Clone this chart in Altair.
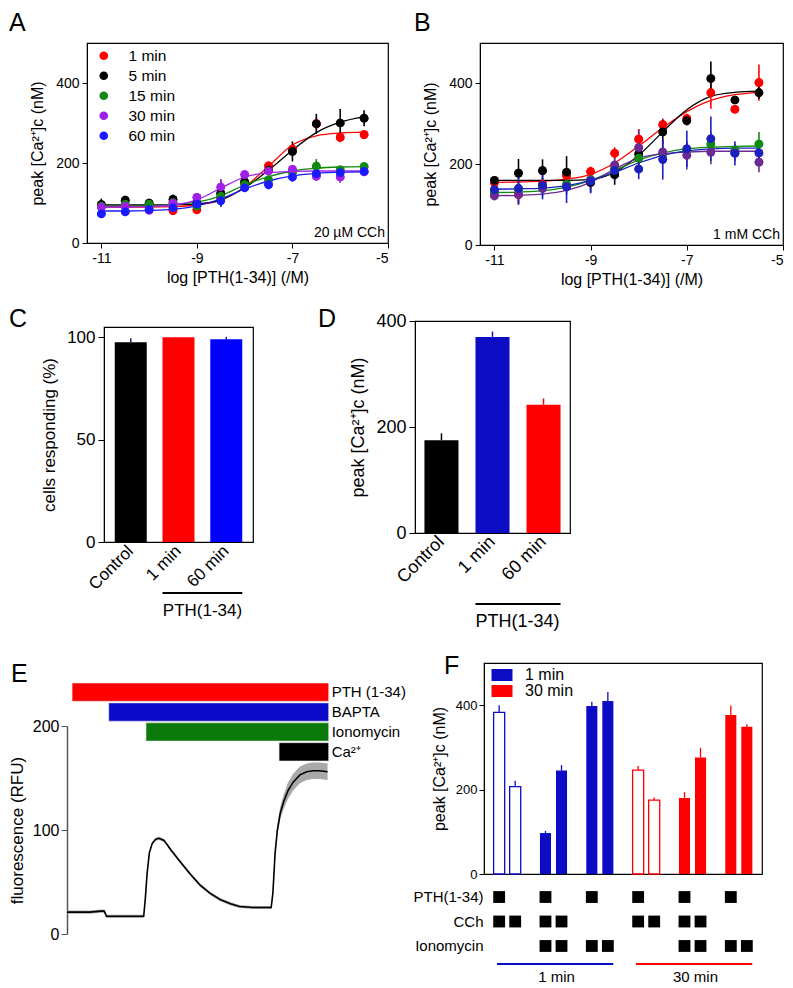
import altair as alt
import pandas as pd

FONT = "Liberation Sans"

# ---------------- Panels A & B : dose-response ----------------
log_pth = [-11, -10.5, -10, -9.5, -9, -8.5, -8, -7.5, -7, -6.5, -6, -5.5]
times = ["1 min", "5 min", "15 min", "30 min", "60 min"]

a_mean = {
    "1 min":  [92, 93, 96, 81, 83, 112, 150, 193, 235, 298, 264, 271],
    "5 min":  [96, 107, 100, 109, 100, 124, 153, 182, 229, 298, 300, 312],
    "15 min": [92, 97, 97, 101, 92, 117, 146, 158, 177, 192, 183, 191],
    "30 min": [90, 92, 82, 100, 114, 140, 171, 180, 184, 167, 165, 178],
    "60 min": [73, 78, 84, 88, 97, 106, 138, 146, 165, 173, 176, 179],
}
a_sem = {
    "1 min":  [8, 6, 6, 8, 5, 8, 8, 8, 10, 15, 12, 10],
    "5 min":  [15, 8, 8, 12, 8, 33, 12, 10, 25, 25, 35, 20],
    "15 min": [10, 6, 10, 6, 5, 8, 10, 10, 10, 18, 8, 6],
    "30 min": [6, 6, 8, 6, 6, 20, 8, 8, 8, 12, 15, 8],
    "60 min": [6, 5, 6, 6, 6, 15, 8, 12, 12, 10, 8, 6],
}
a_fit = {
    "1 min":  [90, 90, 90, 91, 95, 107, 140, 192, 245, 268, 275, 277],
    "5 min":  [95, 95, 95, 96, 98, 108, 138, 182, 232, 276, 302, 316],
    "15 min": [92, 92, 93, 96, 102, 118, 145, 166, 180, 187, 190, 191],
    "30 min": [90, 90, 91, 95, 108, 137, 165, 176, 179, 180, 180, 180],
    "60 min": [80, 80, 81, 84, 93, 110, 135, 155, 168, 174, 177, 178],
}
b_mean = {
    "1 min":  [155, 125, 150, 172, 182, 227, 262, 298, 313, 377, 336, 402],
    "5 min":  [160, 178, 184, 180, 155, 174, 225, 280, 308, 412, 359, 377],
    "15 min": [130, 138, 145, 150, 162, 190, 215, 225, 235, 250, 235, 250],
    "30 min": [122, 125, 140, 145, 160, 198, 241, 230, 222, 230, 228, 205],
    "60 min": [137, 140, 148, 144, 158, 184, 188, 212, 238, 263, 227, 228],
}
b_sem = {
    "1 min":  [10, 25, 15, 10, 12, 15, 25, 15, 12, 40, 10, 45],
    "5 min":  [10, 35, 28, 40, 25, 25, 25, 30, 12, 42, 10, 15],
    "15 min": [10, 15, 15, 15, 15, 15, 15, 20, 20, 30, 15, 30],
    "30 min": [12, 20, 20, 20, 20, 20, 45, 30, 35, 30, 20, 25],
    "60 min": [10, 40, 35, 40, 30, 25, 25, 50, 45, 55, 30, 28],
}
b_fit = {
    "1 min":  [155, 156, 158, 163, 175, 203, 245, 290, 330, 358, 372, 378],
    "5 min":  [160, 160, 160, 160, 162, 180, 222, 280, 335, 368, 378, 381],
    "15 min": [130, 131, 134, 143, 160, 185, 210, 228, 238, 242, 244, 245],
    "30 min": [122, 123, 126, 135, 155, 188, 215, 226, 230, 232, 232, 232],
    "60 min": [138, 139, 141, 147, 160, 180, 203, 222, 233, 238, 240, 240],
}
a_colors = ["#ff0000", "#000000", "#118a11", "#a020e8", "#1a1aff"]
b_colors = ["#ff0000", "#000000", "#118a11", "#6b2a94", "#1b22c0"]

# ---------------- Panels C & D ----------------
cd_groups = ["Control", "1 min", "60 min"]
c_pct = [97.5, 100, 99]
c_sem = [2.0, 0.0, 1.2]
c_colors = ["#000000", "#ff0000", "#0000ff"]
d_peak = [175, 370, 242]
d_sem = [13, 10, 12]
d_colors = ["#000000", "#0c0cc4", "#ff0000"]

# ---------------- Panel E ----------------
e_time = [0, 10, 20, 30, 33, 35, 40, 50, 60, 68, 69.5, 71, 73, 75.5, 78.5, 81.5, 86, 92, 100, 109,
          118, 127, 136, 145, 153, 165, 177, 181, 182.5, 184.5, 186.5, 189, 192, 196, 200.5, 206.5,
          212.5, 218, 224, 231]
e_fluo = [21, 21, 21, 22, 22, 17, 17, 17, 17, 17, 35, 58, 78, 87, 91, 92, 90, 81, 70, 58,
          47, 39, 33, 29, 26.5, 25.5, 25.5, 25.5, 39, 78, 100, 116, 127, 138, 146, 153,
          156, 157, 157, 156]
e_sem = [1.5] * 28 + [2, 3, 5, 6, 7, 8, 8, 8, 8, 8, 8, 8]
drug_names = ["PTH (1-34)", "BAPTA", "Ionomycin", "Ca²⁺"]
drug_on = [4.5, 37, 70, 188]
drug_off = [232, 232, 232, 232]
drug_colors = ["#ff0000", "#0a0ac8", "#0b7a0b", "#000000"]

# ---------------- Panel F ----------------
f_period = ["1 min"] * 6 + ["30 min"] * 6
f_group = [1, 1, 2, 2, 3, 3, 4, 4, 5, 5, 6, 6]
f_bar = [0, 1] * 6
f_open = [1, 1, 0, 0, 0, 0, 1, 1, 0, 0, 0, 0]
f_mean = [383, 207, 97, 245, 398, 410, 246, 175, 180, 276, 377, 349]
f_sem = [17, 14, 5, 13, 10, 21, 10, 6, 14, 23, 22, 6]
treat_rows = ["PTH(1-34)", "CCh", "Ionomycin"]
pth_on = [1, 0] * 6
cch_on = [1, 1, 1, 1, 0, 0, 1, 1, 1, 1, 0, 0]
iono_on = [0, 0, 1, 1, 1, 1, 0, 0, 1, 1, 1, 1]
bracket_period = ["1 min", "30 min"]
bracket_first = [1, 4]
bracket_last = [3, 6]
bracket_mid = [2, 5]
f_colors = ["#0c0cc4", "#ff0000"]

BOX = alt.ViewBackground(stroke="black", strokeWidth=1.2)


def letter(t, dx, dy):
    return alt.Chart(pd.DataFrame({"t": [t]})).mark_text(
        align="left", baseline="alphabetic", fontSize=25, font=FONT).encode(
        text="t:N", x=alt.value(dx), y=alt.value(dy))


def spacer(w, h):
    return alt.Chart(pd.DataFrame({"v": [0]})).mark_point(size=1, opacity=0, filled=True).encode(
        x=alt.value(0.5), y=alt.value(0.5)).properties(width=w, height=h)


def dose_panel(mean, sem, fit, colors, note, let, legend, w, h):
    pts = pd.DataFrame([{"series": s, "curve": s, "x": x, "y": m, "lo": m - e, "hi": m + e}
                        for s in times for x, m, e in zip(log_pth, mean[s], sem[s])])
    crv = pd.DataFrame([{"curve": s, "x": x, "y": v}
                        for s in times for x, v in zip(log_pth, fit[s])])
    xs = alt.Scale(domain=[-11.3, -5], nice=False, zero=False)
    ys = alt.Scale(domain=[0, 500], nice=False)
    cs = alt.Scale(domain=times, range=colors)
    xa = alt.Axis(values=[-11, -9, -7, -5], title="log [PTH(1-34)] (/M)", labelFontSize=14,
                  titleFontSize=16, tickSize=5, labelPadding=3, titlePadding=4,
                  labelExpr="toString(datum.value)")
    ya = alt.Axis(values=[0, 200, 400], title="peak [Ca²⁺]c (nM)", labelFontSize=14,
                  titleFontSize=16, tickSize=5, labelPadding=3, titlePadding=10)
    if legend:
        leg = alt.Legend(title=None, orient="none", legendX=9, legendY=5, symbolType="circle",
                         symbolSize=75, labelFontSize=15.5, labelOffset=17, rowPadding=3,
                         padding=0, symbolStrokeWidth=0, labelFont=FONT)
    else:
        leg = None
    dots = alt.Chart(pts).mark_circle(size=75, opacity=1).encode(
        x=alt.X("x:Q", scale=xs, axis=xa), y=alt.Y("y:Q", scale=ys, axis=ya),
        color=alt.Color("series:N", scale=cs, legend=leg, sort=times))
    lines = alt.Chart(crv).mark_line(interpolate="monotone", strokeWidth=1.3).encode(
        x=alt.X("x:Q", scale=xs), y=alt.Y("y:Q", scale=ys),
        stroke=alt.Stroke("curve:N", scale=cs, legend=None), detail="curve:N")
    errs = alt.Chart(pts).mark_rule(strokeWidth=1.6).encode(
        x=alt.X("x:Q", scale=xs), y=alt.Y("lo:Q", scale=ys), y2="hi:Q",
        stroke=alt.Stroke("curve:N", scale=cs, legend=None))
    txt = alt.Chart(pd.DataFrame({"t": [note]})).mark_text(
        align="right", baseline="middle", fontSize=14).encode(
        text="t:N", x=alt.value(w - 3), y=alt.value(h - 10))
    return alt.layer(dots, lines, errs, dots, txt, let).properties(width=w, height=h, view=BOX)


def bar_panel(vals, sems, colors, ydom, yvals, ytitle, let, w, h, pi, po, err_color,
              line_y, text_y, fs):
    df = pd.DataFrame({"g": cd_groups, "v": vals, "hi": [v + s for v, s in zip(vals, sems)]})
    xs = alt.Scale(domain=cd_groups, paddingInner=pi, paddingOuter=po)
    ys = alt.Scale(domain=ydom, nice=False)
    xa = alt.Axis(title=None, labelAngle=315, labelAlign="right", labelBaseline="middle",
                  ticks=False, labelPadding=6, labelFontSize=fs)
    ya = alt.Axis(values=yvals, title=ytitle, labelFontSize=fs, titleFontSize=fs,
                  tickSize=6, labelPadding=3, titlePadding=8)
    bars = alt.Chart(df).mark_bar().encode(
        x=alt.X("g:N", scale=xs, axis=xa, sort=cd_groups), y=alt.Y("v:Q", scale=ys, axis=ya),
        color=alt.Color("g:N", scale=alt.Scale(domain=cd_groups, range=colors), legend=None))
    if err_color is None:
        errs = alt.Chart(df).mark_rule(strokeWidth=1.5).encode(
            x=alt.X("g:N", scale=xs), y=alt.Y("v:Q", scale=ys), y2="hi:Q",
            stroke=alt.Stroke("g:N", scale=alt.Scale(domain=cd_groups, range=colors), legend=None))
    else:
        errs = alt.Chart(df).mark_rule(strokeWidth=1.5, color=err_color).encode(
            x=alt.X("g:N", scale=xs), y=alt.Y("v:Q", scale=ys), y2="hi:Q")
    br = pd.DataFrame({"a": ["1 min"], "b": ["60 min"], "lab": ["PTH(1-34)"]})
    rule = alt.Chart(br).mark_rule(strokeWidth=1.8, color="black").encode(
        x=alt.X("a:N", scale=xs, bandPosition=0), x2=alt.X2("b:N", bandPosition=1),
        y=alt.value(line_y))
    lab = alt.Chart(br).mark_text(fontSize=fs, baseline="middle", align="center", dx=8).encode(
        x=alt.X("a:N", scale=xs, bandPosition=1), y=alt.value(text_y), text="lab:N")
    return alt.layer(bars, errs, rule, lab, let).properties(width=w, height=h, view=BOX)


# ---- A, B ----
A = dose_panel(a_mean, a_sem, a_fit, a_colors, "20 µM CCh", letter("A", -78, -12), True, 301, 200)
B = dose_panel(b_mean, b_sem, b_fit, b_colors, "1 mM CCh", letter("B", -66, -12), False, 303, 202)

# ---- C, D ----
C = bar_panel(c_pct, c_sem, c_colors, [0, 105], [0, 50, 100], "cells responding (%)",
              letter("C", -95, 0), 149, 215, 0.33, 0.225, "#1a1a80", 266, 284, 17)
D = bar_panel(d_peak, d_sem, d_colors, [0, 400], [0, 200, 400], "peak [Ca²⁺]c (nM)",
              letter("D", -97, 6), 155, 212, 0.333, 0.185, None, 283, 301, 18)

# ---- E ----
tr = pd.DataFrame({"t": e_time, "f": e_fluo,
                   "lo": [f - s for f, s in zip(e_fluo, e_sem)],
                   "hi": [f + s for f, s in zip(e_fluo, e_sem)]})
ex = alt.Scale(domain=[0, 250], nice=False)
ey = alt.Scale(domain=[0, 200], nice=False)
exa = alt.Axis(values=[0, 100, 200], title="time (s)", labelFontSize=16, titleFontSize=16,
               domainColor="#555555", tickColor="#555555", domainWidth=1.5, tickSize=6,
               labelPadding=3)
eya = alt.Axis(values=[0, 100, 200], title="fluorescence (RFU)", labelFontSize=16,
               titleFontSize=17, domainColor="#555555", tickColor="#555555", domainWidth=1.5,
               tickSize=6, labelPadding=2, titlePadding=6)
band = alt.Chart(tr).mark_area(color="#9a9a9a", opacity=0.85).encode(
    x=alt.X("t:Q", scale=ex, axis=exa), y=alt.Y("lo:Q", scale=ey, axis=eya), y2="hi:Q")
trace = alt.Chart(tr).mark_line(color="black", strokeWidth=1.6).encode(
    x=alt.X("t:Q", scale=ex), y=alt.Y("f:Q", scale=ey))
dr = pd.DataFrame({"drug": drug_names, "on": drug_on, "off": drug_off})
dys = alt.Scale(domain=drug_names, range=[-43, 35], paddingInner=0.08, paddingOuter=0)
dbar = alt.Chart(dr).mark_bar(stroke="#e8e8e8", strokeWidth=0.6).encode(
    x=alt.X("on:Q", scale=ex, axis=None), x2="off:Q",
    y=alt.Y("drug:N", scale=dys, axis=None, sort=drug_names),
    color=alt.Color("drug:N", scale=alt.Scale(domain=drug_names, range=drug_colors), legend=None))
dlab = alt.Chart(dr).mark_text(align="left", dx=3, fontSize=15, baseline="middle").encode(
    x=alt.X("off:Q", scale=ex, axis=None), y=alt.Y("drug:N", scale=dys, axis=None, sort=drug_names),
    text="drug:N")
E = alt.layer(alt.layer(band, trace), alt.layer(dbar, dlab), letter("E", -56, -44)).resolve_scale(
    y="independent").properties(width=282, height=208)

# ---- F ----
fdf = pd.DataFrame({"period": f_period, "group": f_group, "bar": f_bar, "open": f_open,
                    "mean": f_mean, "hi": [m + s for m, s in zip(f_mean, f_sem)]})
fx = alt.Scale(type="band", domain=[1, 2, 3, 4, 5, 6], paddingInner=0, paddingOuter=0)
fxo = alt.Scale(type="band", domain=[0, 1], paddingInner=0.31, paddingOuter=0.6)
fy = alt.Scale(domain=[0, 500], nice=False)
pal = alt.Scale(domain=["1 min", "30 min"], range=f_colors)
fya = alt.Axis(values=[0, 200, 400], title="peak [Ca²⁺]c (nM)", labelFontSize=13,
               titleFontSize=16, tickSize=5, labelPadding=2, titlePadding=8)
fleg = alt.Legend(title=None, orient="none", legendX=10, legendY=4,
                  symbolType="M-1.75,-1H1.75V1H-1.75Z", symbolSize=144, labelFontSize=16,
                  labelOffset=15, rowPadding=0, padding=0, symbolStrokeWidth=0, labelFont=FONT)
fill_bars = alt.Chart(fdf).transform_filter("datum.open == 0").mark_bar().encode(
    x=alt.X("group:O", scale=fx, axis=None), xOffset=alt.XOffset("bar:O", scale=fxo),
    y=alt.Y("mean:Q", scale=fy, axis=fya),
    color=alt.Color("period:N", scale=pal, legend=fleg))
open_bars = alt.Chart(fdf).transform_filter("datum.open == 1").mark_bar(
    fill="white", strokeWidth=1.3).encode(
    x=alt.X("group:O", scale=fx, axis=None), xOffset=alt.XOffset("bar:O", scale=fxo),
    y=alt.Y("mean:Q", scale=fy), stroke=alt.Stroke("period:N", scale=pal, legend=None))
f_err = alt.Chart(fdf).mark_rule(strokeWidth=1.3).encode(
    x=alt.X("group:O", scale=fx, axis=None), xOffset=alt.XOffset("bar:O", scale=fxo),
    y=alt.Y("mean:Q", scale=fy), y2="hi:Q",
    stroke=alt.Stroke("period:N", scale=pal, legend=None))
F = alt.layer(fill_bars, open_bars, f_err, letter("F", -40, 11)).properties(
    width=278, height=211, view=BOX)

mrows = []
for i in range(12):
    for row, flags in zip(treat_rows, [pth_on, cch_on, iono_on]):
        if flags[i]:
            mrows.append({"group": f_group[i], "bar": f_bar[i], "row": row})
mdf = pd.DataFrame(mrows)
msq = alt.Chart(mdf).mark_square(size=140, color="black", opacity=1).encode(
    x=alt.X("group:O", scale=fx, axis=None), xOffset=alt.XOffset("bar:O", scale=fxo),
    y=alt.Y("row:N", scale=alt.Scale(type="band", domain=treat_rows, paddingInner=0,
                                     paddingOuter=0.44),
            sort=treat_rows,
            axis=alt.Axis(title=None, domain=False, ticks=False, labelFontSize=15,
                          labelPadding=1, labelColor="black")))
bdf = pd.DataFrame({"period": bracket_period, "first": bracket_first, "last": bracket_last,
                    "mid": bracket_mid})
lrule = alt.Chart(bdf).mark_rule(strokeWidth=2).encode(
    x=alt.X("first:O", scale=fx, axis=None, bandPosition=0.28),
    x2=alt.X2("last", bandPosition=0.79), y=alt.value(90),
    stroke=alt.Stroke("period:N", scale=pal, legend=None))
ltext = alt.Chart(bdf).mark_text(fontSize=15, baseline="middle", dx=3).encode(
    x=alt.X("mid:O", scale=fx, axis=None, bandPosition=0.5), y=alt.value(103), text="period:N")
ML = alt.layer(msq, lrule, ltext).properties(width=278, height=95)


def res(c):
    return c.resolve_scale(x="independent", y="independent", color="independent",
                           stroke="independent", xOffset="independent").resolve_legend(
        color="independent", stroke="independent")


def H(*charts):
    return res(alt.hconcat(*charts, spacing=0, bounds="flush"))


def V(*charts):
    return res(alt.vconcat(*charts, spacing=0, bounds="flush"))


# Nested concat groups take no room in a flush layout, so explicit spacers
# set every row's start.
O = 8
row1 = H(spacer(86 - O, 1), A, spacer(479 - 387, 1), B)
row2 = H(spacer(103 - O, 1), V(spacer(1, 327 - 321), C), spacer(149 + 414 - 252, 1), D)
row3 = H(spacer(66 - O, 1), V(spacer(1, 726 - 663), E), spacer(282 + 483 - 348, 1), V(F, ML))

chart = V(spacer(1, 43 - O), row1, spacer(1, 321 - 43), row2, spacer(1, 663 - 321), row3,
          spacer(1, 988 - 663 - 20)).properties(
    padding=0
).configure(font=FONT).configure_view(stroke=None).configure_axis(
    labelFont=FONT, titleFont=FONT, titleFontWeight="normal", grid=False, labelColor="black",
    titleColor="black", tickColor="black", domainColor="black"
).configure_legend(labelFont=FONT).configure_text(font=FONT)

chart.save("out.html", embed_options={"renderer": "svg", "actions": False})
